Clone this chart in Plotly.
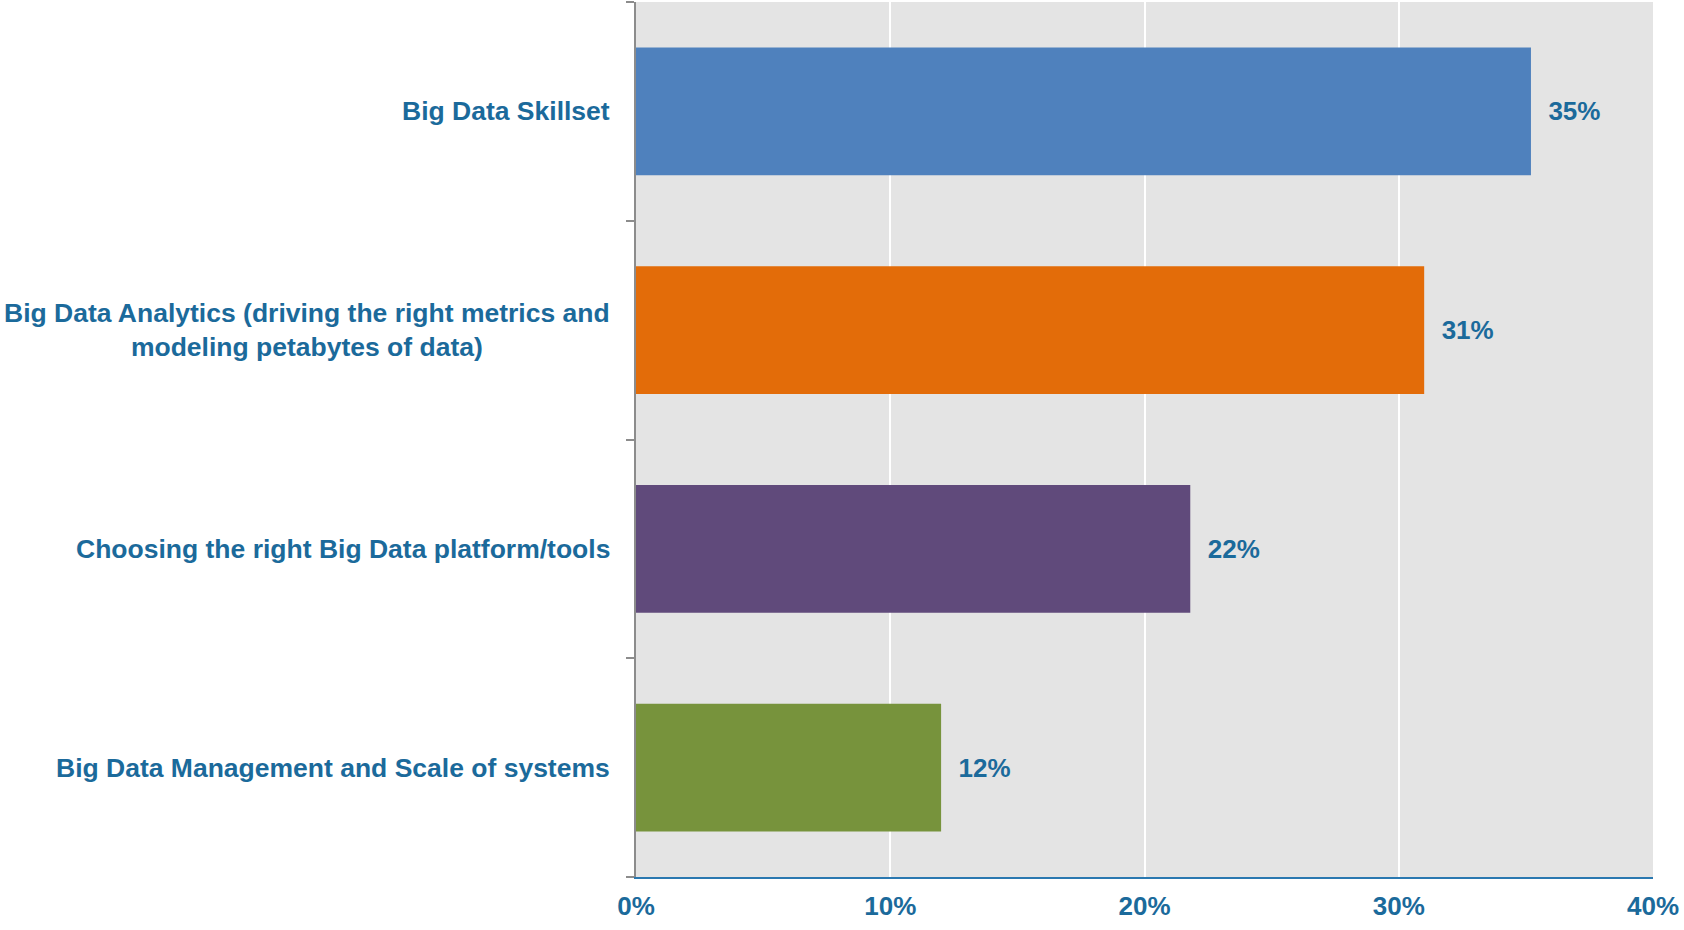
import plotly.graph_objects as go

categories = [
    "Big Data Skillset",
    "Big Data Analytics (driving the right metrics and<br>modeling petabytes of data)",
    "Choosing the right Big Data platform/tools",
    "Big Data Management and Scale of systems",
]
values = [35.2, 31.0, 21.8, 12.0]
colors = ["#4f81bd", "#e36c09", "#604a7b", "#77933c"]
x_ticks = [0, 10, 20, 30, 40]
x_tick_labels = ["0%", "10%", "20%", "30%", "40%"]

TEXT = "#1b6a9b"
FONT = "Liberation Sans, Arial, sans-serif"

fig = go.Figure()
fig.add_trace(go.Bar(
    y=categories,
    x=values,
    orientation="h",
    marker=dict(color=colors, line=dict(width=0)),
    text=[f"\u00a0\u00a0{v:.0f}%" for v in values],
    textposition="outside",
    textfont=dict(family=FONT, size=26, color=TEXT, weight="bold"),
    cliponaxis=False,
    hoverinfo="skip",
))

for c in categories:
    fig.add_annotation(
        x=0, xref="paper", y=c, yref="y",
        text=c, showarrow=False,
        xanchor="right", yanchor="middle", align="center",
        xshift=-24,
        font=dict(family=FONT, size=26.5, color=TEXT, weight="bold"),
    )

fig.update_layout(
    width=1684, height=930,
    margin=dict(l=636, r=31, t=2, b=53),
    paper_bgcolor="white",
    plot_bgcolor="#e4e4e4",
    bargap=0.415,
    showlegend=False,
    xaxis=dict(
        range=[0, 40],
        tickvals=x_ticks,
        ticktext=x_tick_labels,
        showgrid=True, gridcolor="white", gridwidth=1.5,
        zeroline=False,
        showline=True, linecolor="#2a78b0", linewidth=2,
        ticks="",
        ticklabelstandoff=5,
        tickfont=dict(family=FONT, size=26, color=TEXT, weight="bold"),
    ),
    yaxis=dict(
        categoryorder="array",
        categoryarray=list(reversed(categories)),
        autorange=True,
        showticklabels=False,
        ticks="outside", ticklen=8, tickcolor="#8c8c8c", tickwidth=1.5,
        tickson="boundaries",
        showline=True, linecolor="#8c8c8c", linewidth=2,
        showgrid=False, zeroline=False,
    ),
)

fig.write_html(
    "out.html",
    config={"displayModeBar": False},
    post_script="document.body.style.margin='0';document.body.style.overflow='hidden';",
)
